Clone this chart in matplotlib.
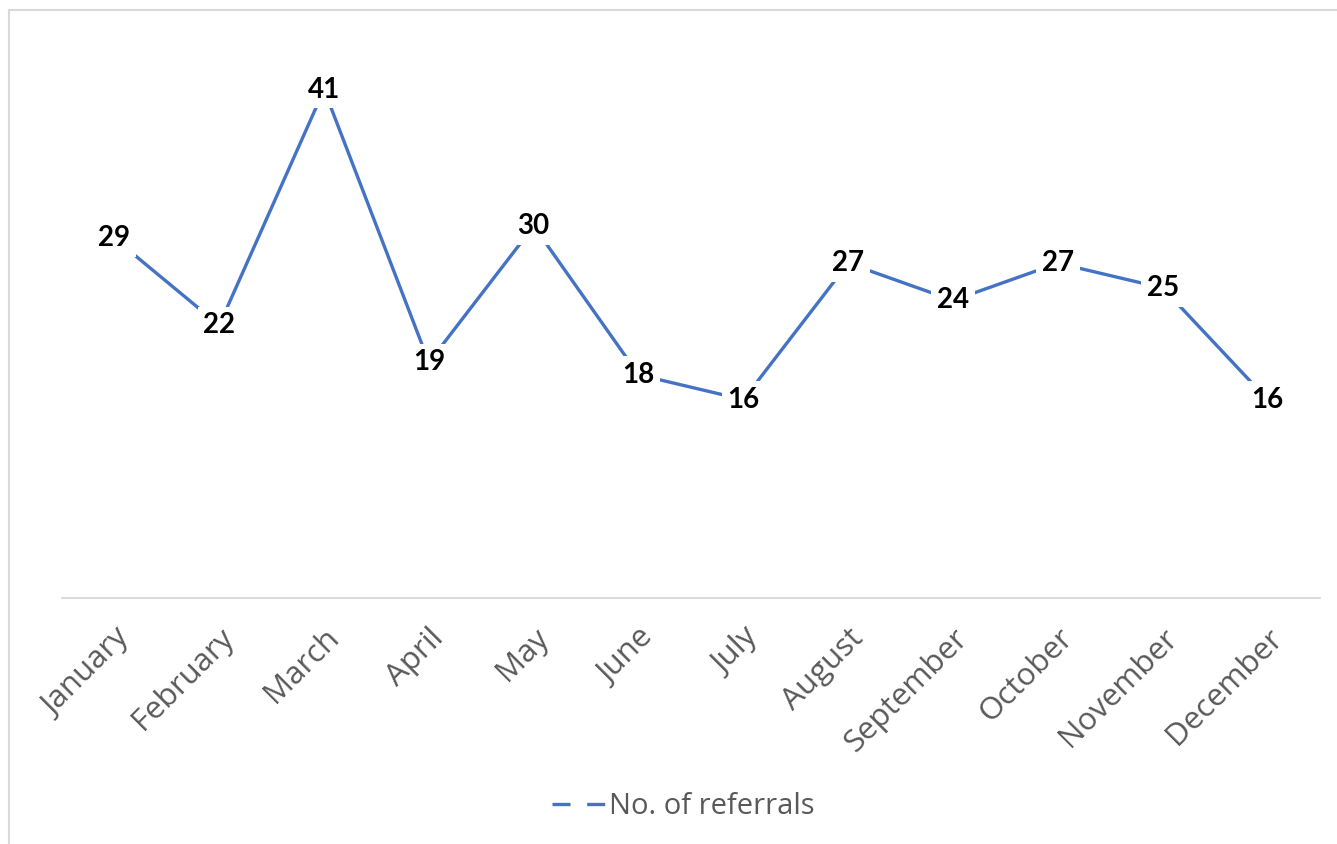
import matplotlib
matplotlib.use('Agg')
import matplotlib.pyplot as plt
from matplotlib.lines import Line2D
from matplotlib.patches import Rectangle

months = ['January', 'February', 'March', 'April', 'May', 'June', 'July',
          'August', 'September', 'October', 'November', 'December']
referrals = [29, 22, 41, 19, 30, 18, 16, 27, 24, 27, 25, 16]
series_name = 'No. of referrals'

blue = '#4472C4'
grey_text = '#595959'
grey_line = '#D9D9D9'

fig = plt.figure(figsize=(13.37, 8.44), dpi=100)
W, H = 1337, 844
ax = fig.add_axes([62 / W, 1 - 598 / H, (1320 - 62) / W, (598 - 40) / H])

x = list(range(len(months)))
ax.plot(x, referrals, color=blue, lw=2.4, zorder=2, solid_capstyle='butt')

for xi, v in zip(x, referrals):
    ax.text(xi, v, str(v), ha='center', va='center', fontsize=20,
            fontweight='bold', family='Lato', color='black', zorder=3,
            bbox=dict(fc='white', ec='none', pad=4))

ax.set_xlim(-0.5, 11.5)
ax.set_ylim(0, 45)
ax.set_yticks([])
for s in ['top', 'left', 'right']:
    ax.spines[s].set_visible(False)
ax.spines['bottom'].set_color(grey_line)
ax.spines['bottom'].set_linewidth(1.3)

ax.set_xticks(x)
ax.set_xticklabels(months, rotation=45, ha='right', rotation_mode='anchor',
                   fontsize=22.5, family='Open Sans', color=grey_text)
ax.tick_params(axis='x', length=0, pad=18)

handle = Line2D([0], [0], color=blue, lw=2.4, dashes=(5.4, 5.0))
fig.legend([handle], [series_name], loc='center', bbox_to_anchor=(683 / W, 1 - 807 / H),
           frameon=False, prop={'family': 'Open Sans', 'size': 21},
           labelcolor=grey_text, handlelength=1.85, handletextpad=0.1)

fig.patches.append(Rectangle((9 / W, -0.1), 1.2, 1 - 10 / H + 0.1,
                             transform=fig.transFigure, fill=False,
                             ec=grey_line, lw=1.5))

fig.savefig('out.png', dpi=100)
